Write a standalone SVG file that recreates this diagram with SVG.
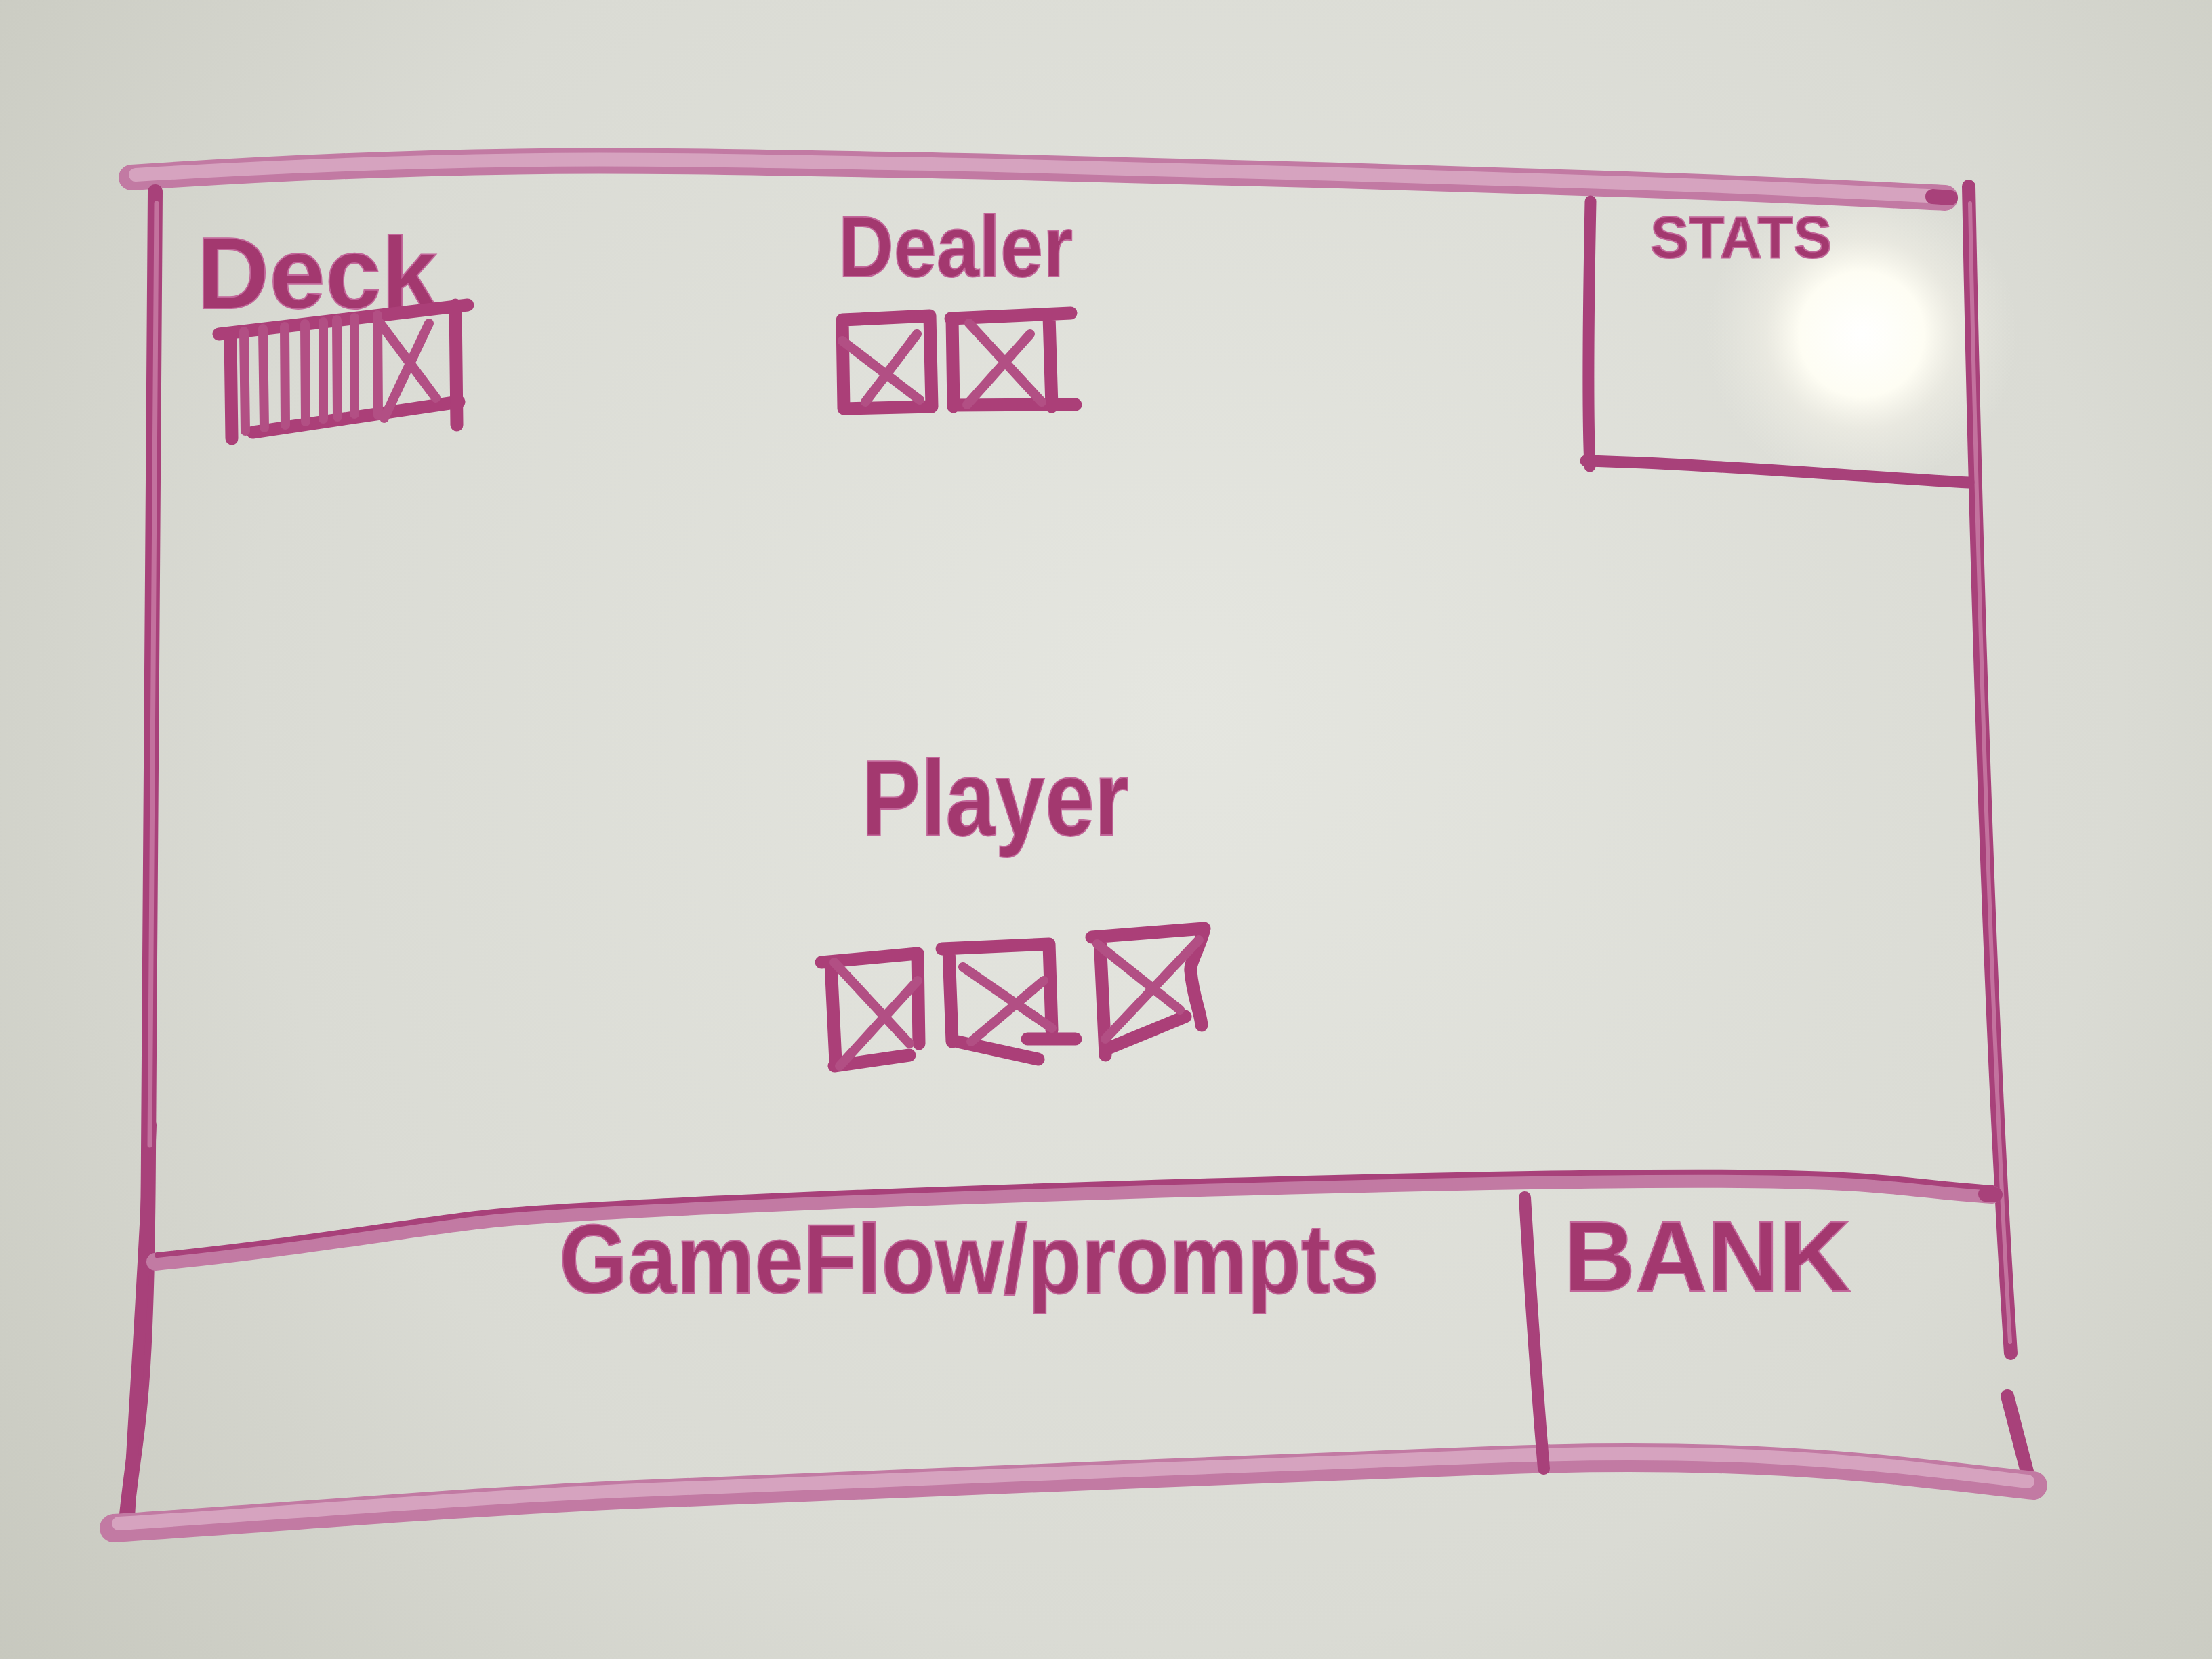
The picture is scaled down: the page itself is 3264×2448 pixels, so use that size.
<svg xmlns="http://www.w3.org/2000/svg" width="3264" height="2448" viewBox="0 0 3264 2448">
  <defs>
    <radialGradient id="board" cx="1750" cy="1050" r="2300" gradientUnits="userSpaceOnUse">
      <stop offset="0" stop-color="#e5e6e0"/>
      <stop offset="0.6" stop-color="#dadbd4"/>
      <stop offset="1" stop-color="#c6c7bd"/>
    </radialGradient>
    <radialGradient id="glare" cx="2747" cy="493" r="230" gradientUnits="userSpaceOnUse">
      <stop offset="0" stop-color="#ffffff" stop-opacity="1"/>
      <stop offset="0.4" stop-color="#fffef4" stop-opacity="0.97"/>
      <stop offset="0.62" stop-color="#f6f4ea" stop-opacity="0.5"/>
      <stop offset="1" stop-color="#eeeee6" stop-opacity="0"/>
    </radialGradient>
    <style>
      .ink { fill: none; stroke: #a8417a; stroke-linecap: round; stroke-linejoin: round; }
      .sheen { fill: none; stroke: #cf88ae; stroke-linecap: round; stroke-linejoin: round; opacity: 0.7; }
      .wash { fill: none; stroke: #c27aa3; stroke-linecap: round; stroke-linejoin: round; }
      .washin { fill: none; stroke: #d9aac4; stroke-linecap: round; stroke-linejoin: round; opacity: 0.85; }
      .card { fill: none; stroke: #ab3f78; stroke-width: 19; stroke-linecap: round; stroke-linejoin: round; }
      .cardx { fill: none; stroke: #b24f84; stroke-width: 14; stroke-linecap: round; }
      .lbl { font-family: "Liberation Sans", Arial, sans-serif; font-weight: bold; fill: #a3386f; stroke: #c2679a; stroke-width: 2; }
    </style>
  </defs>

  <!-- whiteboard surface -->
  <rect x="0" y="0" width="3264" height="2448" fill="url(#board)"/>
  <ellipse cx="2747" cy="493" rx="240" ry="220" fill="url(#glare)"/>

  <!-- outer screen frame and panel dividers -->
  <g id="frame">
    <!-- top edge -->
    <path class="wash" stroke-width="38" d="M194,262 C400,248 600,240 800,238 S1250,242 1470,246 S2150,264 2400,272 S2780,288 2870,292"/>
    <path class="washin" stroke-width="20" d="M200,258 C400,246 600,238 800,236 S1250,240 1470,244 S2150,262 2400,270 S2780,286 2864,290"/>
    <path class="ink" stroke="#9c3a6e" stroke-width="22" d="M2852,290 L2878,292"/>
    <!-- left edge -->
    <path class="ink" stroke-width="22" d="M229,283 C224,800 221,1300 219,1700 S200,2100 186,2245"/>
    <path class="ink" stroke-width="18" d="M222,1660 C212,1900 198,2080 190,2240"/>
    <path class="sheen" stroke-width="7" d="M231,300 C226,800 223,1300 221,1690"/>
    <!-- right edge -->
    <path class="ink" stroke="#bb6393" stroke-width="20" d="M2905,275 C2915,800 2935,1500 2967,1997"/>
    <path class="sheen" stroke-width="6" d="M2907,300 C2917,800 2937,1500 2966,1980"/>
    <path class="ink" stroke-width="20" d="M2962,2060 L2998,2198"/>
    <!-- bottom edge -->
    <path class="wash" stroke-width="42" d="M168,2255 C400,2240 700,2215 940,2205 S1800,2170 2200,2155 S2800,2170 3000,2192"/>
    <path class="washin" stroke-width="20" d="M175,2248 C400,2234 700,2209 940,2199 S1800,2164 2200,2149 S2800,2164 2992,2186"/>
    <!-- game area / bottom panel separator -->
    <path class="wash" stroke="#c887ab" stroke-width="26" d="M229,1862 C450,1840 600,1812 720,1799 S1400,1760 2100,1745 S2750,1750 2940,1763"/>
    <path class="ink" stroke-width="8" d="M232,1852 C450,1830 600,1802 720,1789 S1400,1750 2100,1735 S2750,1740 2940,1753"/>
    <path class="ink" stroke="#8e2f61" stroke-width="22" d="M2930,1762 L2944,1763"/>
  </g>

  <!-- stats panel -->
  <g id="stats">
    <path class="ink" stroke="#b9578c" stroke-width="17" d="M2347,297 C2344,450 2342,600 2346,688"/>
    <path class="ink" stroke="#b9578c" stroke-width="17" d="M2340,680 C2500,684 2700,700 2905,712"/>
    <text class="lbl" x="2435" y="380" font-size="88" textLength="268" lengthAdjust="spacingAndGlyphs">STATS</text>
  </g>

  <!-- deck: stacked cards plus one face-down card -->
  <g id="deck">
    <text class="lbl" x="290" y="455" font-size="150" textLength="355" lengthAdjust="spacingAndGlyphs">Deck</text>
    <path class="card" d="M323,493 L690,450"/>
    <path class="card" d="M340,497 L342,647"/>
    <path class="card" d="M373,638 L677,593"/>
    <path class="card" d="M672,450 L674,627"/>
    <g class="cardx">
      <path d="M360,489 L362,636"/>
      <path d="M388,485 L390,631"/>
      <path d="M420,482 L421,627"/>
      <path d="M450,478 L451,622"/>
      <path d="M477,475 L477,618"/>
      <path d="M497,472 L498,615"/>
      <path d="M523,469 L523,611"/>
      <path d="M557,465 L558,613"/>
      <path d="M561,477 L643,587"/>
      <path d="M633,477 L567,617"/>
    </g>
  </g>

  <!-- dealer hand -->
  <g id="dealer">
    <text class="lbl" x="1237" y="408" font-size="128" textLength="346" lengthAdjust="spacingAndGlyphs">Dealer</text>
    <path class="card" d="M1243,472 L1372,466 L1375,600 L1245,603 Z"/>
    <path class="cardx" d="M1243,503 L1357,590 M1353,493 L1277,593"/>
    <path class="card" d="M1403,470 L1580,462 M1548,466 L1552,600 M1407,598 L1587,597 M1405,470 L1407,600"/>
    <path class="cardx" d="M1430,477 L1537,593 M1520,493 L1427,597"/>
  </g>

  <!-- player hand -->
  <g id="player">
    <text class="lbl" x="1271" y="1232" font-size="158" textLength="395" lengthAdjust="spacingAndGlyphs">Player</text>
    <path class="card" d="M1212,1420 L1354,1407 M1226,1420 L1233,1567 M1231,1573 L1342,1557 M1354,1407 L1356,1540"/>
    <path class="cardx" d="M1231,1420 L1342,1540 M1354,1447 L1239,1573"/>
    <path class="card" d="M1390,1400 L1548,1393 M1400,1400 L1405,1537 M1413,1537 L1532,1563 M1548,1393 L1552,1520 M1516,1533 L1587,1533"/>
    <path class="cardx" d="M1421,1427 L1552,1517 M1540,1447 L1433,1537"/>
    <path class="card" d="M1611,1383 L1777,1370 C1770,1400 1755,1420 1757,1433 C1760,1470 1772,1495 1773,1513 M1623,1383 L1631,1557 M1635,1547 L1749,1500"/>
    <path class="cardx" d="M1619,1393 L1741,1490 M1769,1387 L1631,1533"/>
  </g>

  <!-- game flow / prompts panel -->
  <g id="gameflow">
    <text class="lbl" x="825" y="1908" font-size="145" textLength="1210" lengthAdjust="spacingAndGlyphs">GameFlow/prompts</text>
  </g>

  <!-- bank panel -->
  <g id="bank">
    <path class="ink" stroke-width="18" d="M2250,1767 C2258,1900 2268,2050 2278,2167"/>
    <text class="lbl" x="2307" y="1905" font-size="148" textLength="424" lengthAdjust="spacingAndGlyphs">BANK</text>
  </g>
</svg>
